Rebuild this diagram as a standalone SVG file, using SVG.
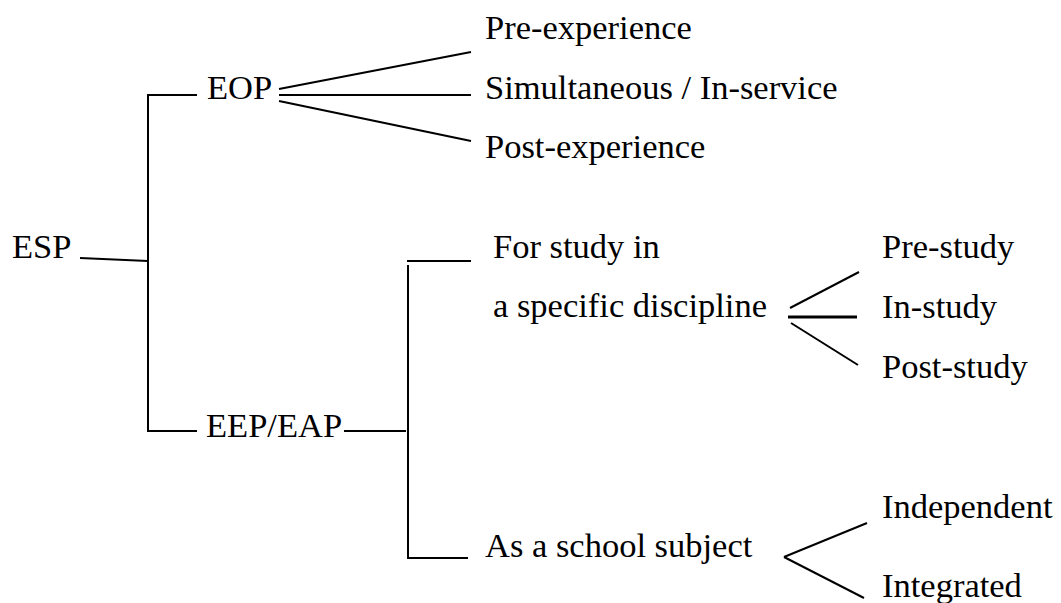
<svg xmlns="http://www.w3.org/2000/svg" width="1061" height="603" viewBox="0 0 1061 603">
<style>
text{font-family:"Liberation Serif","Times New Roman",serif;font-size:34.5px;fill:#000}
.c line{stroke:#000;stroke-width:2;fill:none}
.c line.t{stroke-width:3}
</style>
<rect width="1061" height="603" fill="#fff"/>
<g class="c" id="connectors">
<line x1="80" y1="258" x2="148" y2="261"/>
<line x1="148" y1="96" x2="148" y2="432"/>
<line x1="147" y1="95" x2="197" y2="95"/>
<line x1="147" y1="431" x2="197" y2="431"/>
<line x1="279" y1="89" x2="471" y2="52"/>
<line x1="279" y1="95" x2="471" y2="95"/>
<line x1="279" y1="101" x2="471" y2="141"/>
<line x1="344" y1="431" x2="406" y2="431"/>
<line x1="408" y1="265" x2="408" y2="559"/>
<line x1="407" y1="261" x2="471" y2="261"/>
<line x1="407" y1="558" x2="468" y2="558"/>
<line x1="790" y1="308" x2="859" y2="272"/>
<line class="t" x1="788" y1="317" x2="857" y2="317"/>
<line x1="791" y1="323" x2="858" y2="365"/>
<line x1="784" y1="557" x2="867" y2="523"/>
<line x1="784" y1="557" x2="864" y2="598"/>
</g>
<g id="n-esp"><text x="12" y="258">ESP</text></g>
<g id="n-eop"><text x="207" y="99">EOP</text></g>
<g id="n-pre-exp"><text x="485" y="39">Pre-experience</text></g>
<g id="n-sim"><text x="485" y="99">Simultaneous / In-service</text></g>
<g id="n-post-exp"><text x="485" y="158">Post-experience</text></g>
<g id="n-eep"><text x="206" y="437">EEP/EAP</text></g>
<g id="n-study"><text x="493" y="258">For study in</text><text x="493" y="317">a specific discipline</text></g>
<g id="n-pre-study"><text x="882" y="258">Pre-study</text></g>
<g id="n-in-study"><text x="882" y="318">In-study</text></g>
<g id="n-post-study"><text x="882" y="378">Post-study</text></g>
<g id="n-school"><text x="485" y="557">As a school subject</text></g>
<g id="n-indep"><text x="882" y="518">Independent</text></g>
<g id="n-integ"><text x="882" y="597">Integrated</text></g>
</svg>
